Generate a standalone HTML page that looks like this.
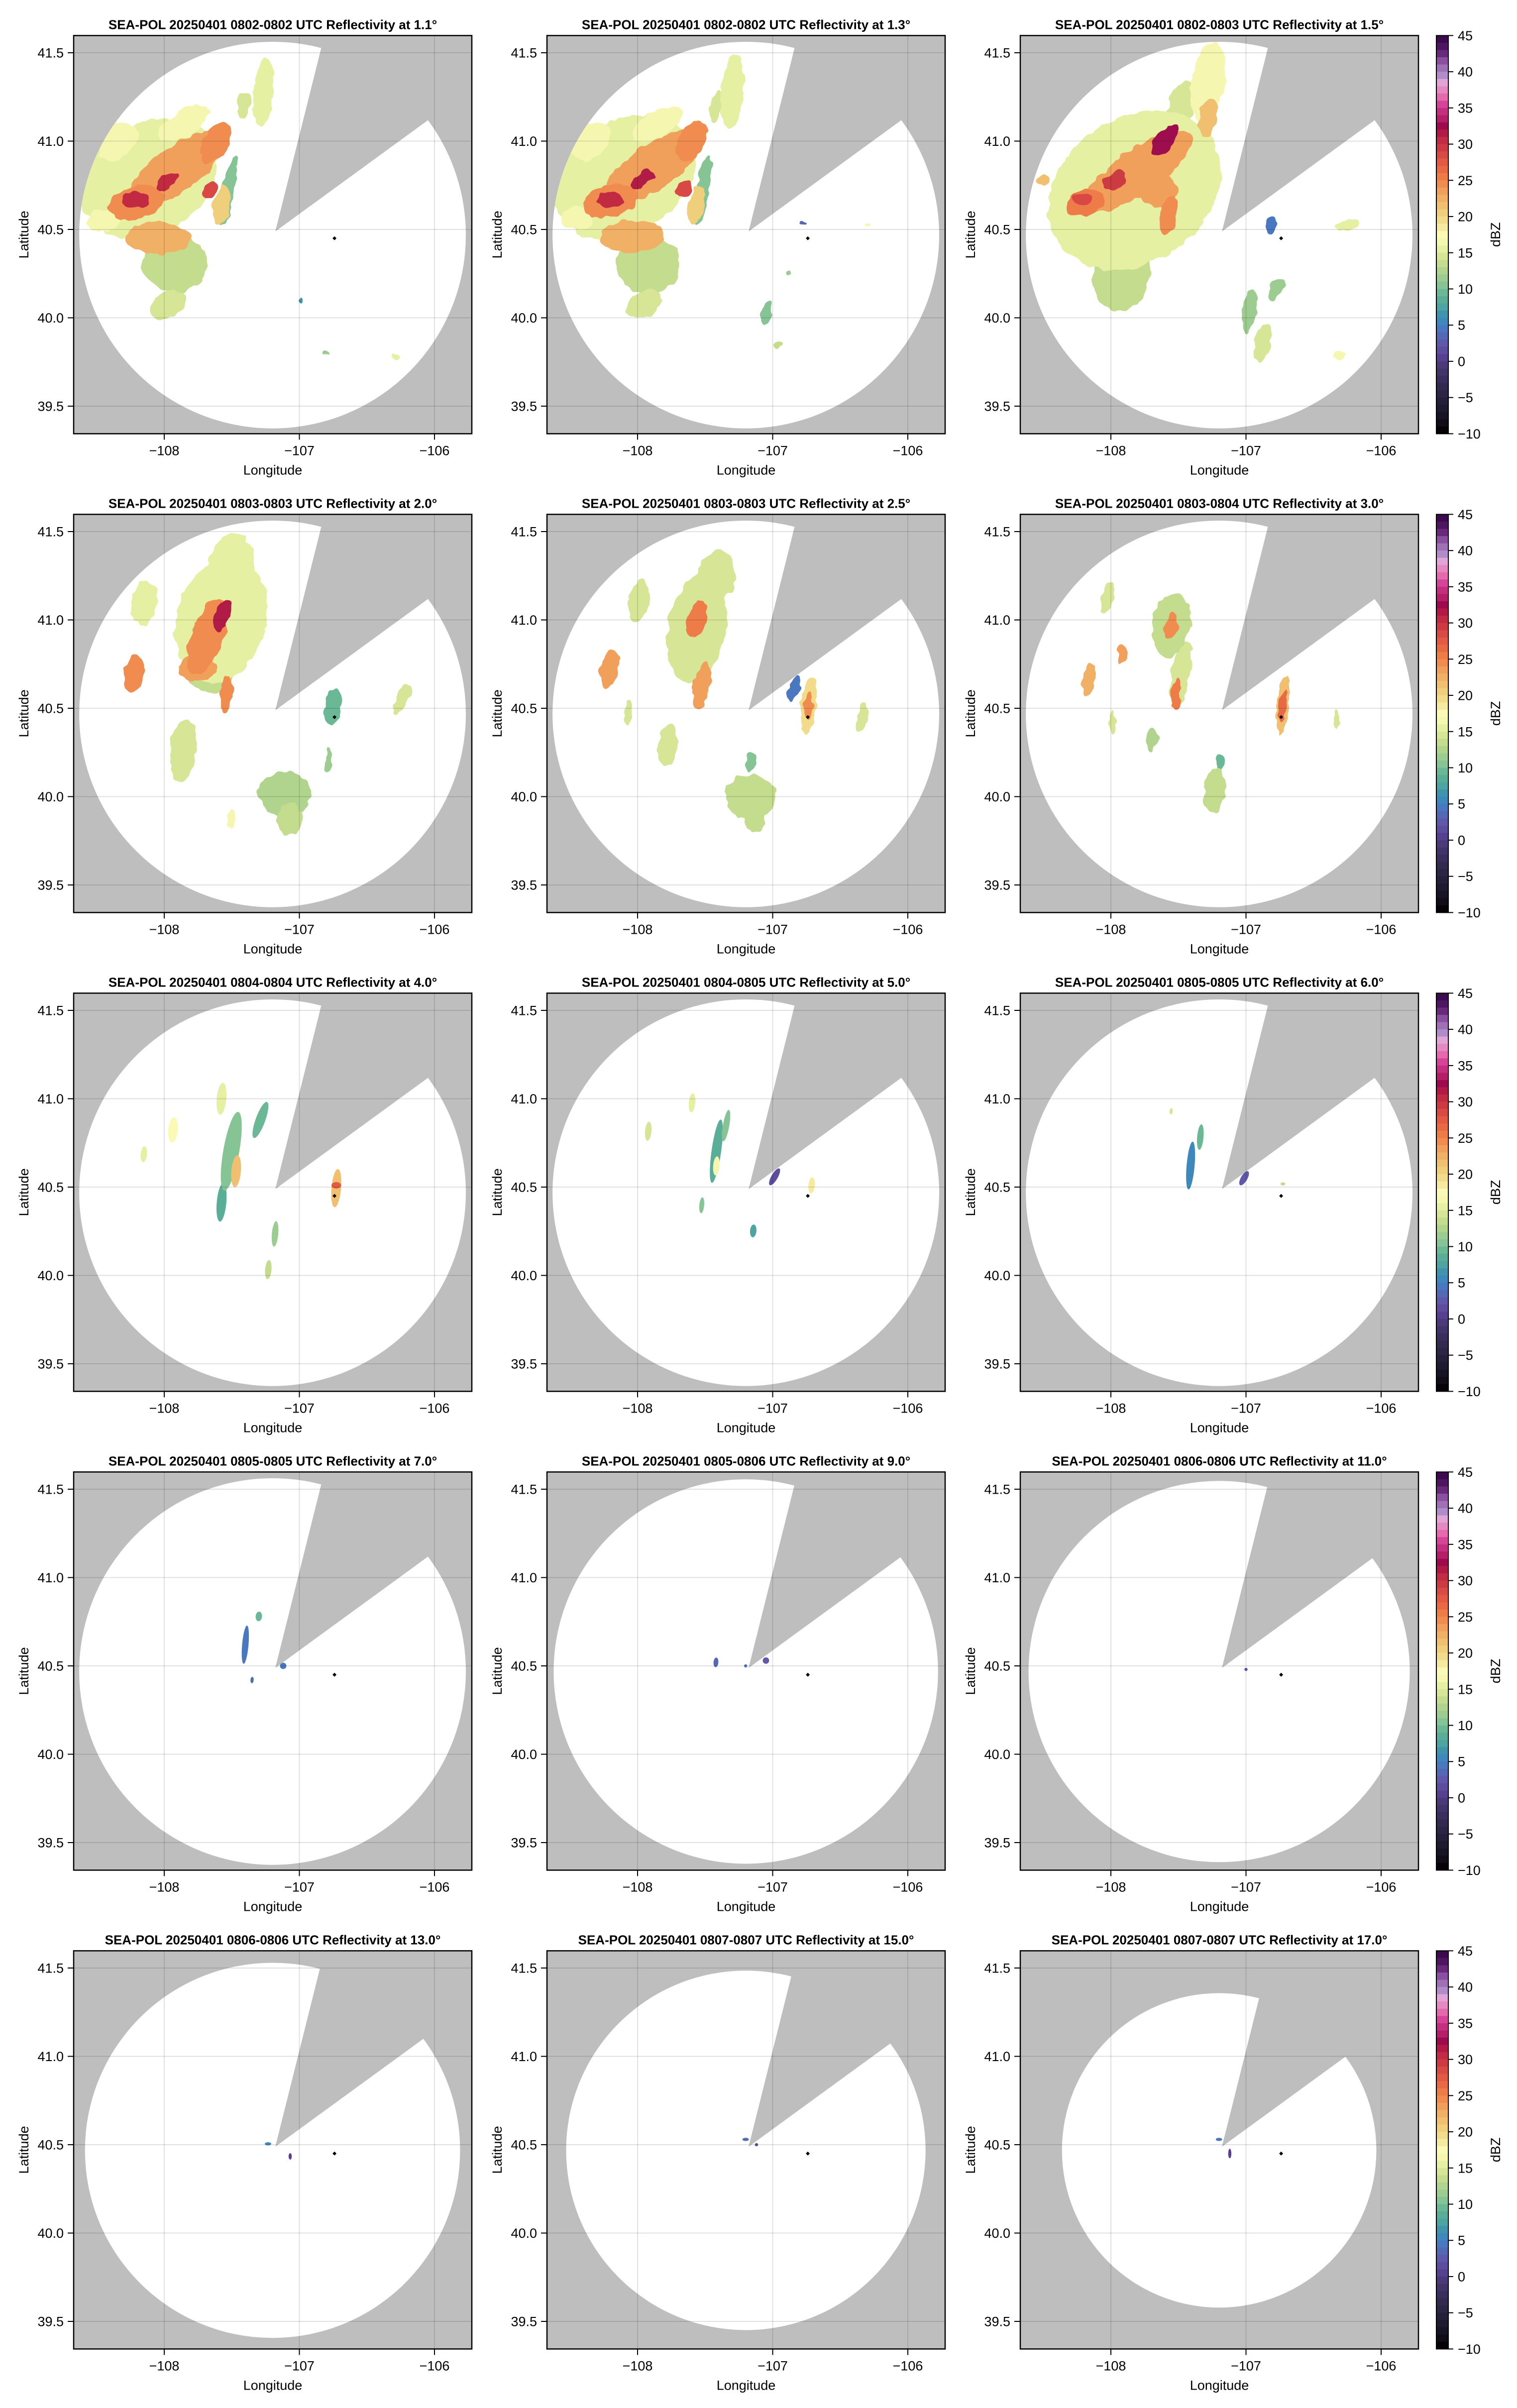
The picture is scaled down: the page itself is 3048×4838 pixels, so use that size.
<!DOCTYPE html>
<html><head><meta charset="utf-8"><title>SEA-POL reflectivity</title>
<style>html,body{margin:0;padding:0;background:#fff}svg{display:block}text{font-family:"Liberation Sans",Arial,sans-serif}</style>
</head><body>
<svg id="fig" width="3048" height="4838" viewBox="0 0 3048 4838" xmlns="http://www.w3.org/2000/svg">
<defs>
<filter id="rag" x="-10%" y="-10%" width="120%" height="120%">
<feTurbulence type="fractalNoise" baseFrequency="0.045" numOctaves="2" seed="4" result="n"/>
<feDisplacementMap in="SourceGraphic" in2="n" scale="16" xChannelSelector="R" yChannelSelector="G"/>
</filter>
</defs>
</svg>
<script>
const panelElev = ["1.1","1.3","1.5","2.0","2.5","3.0","4.0","5.0","6.0","7.0","9.0","11.0","13.0","15.0","17.0"];
const panelTimes = ["0802-0802","0802-0802","0802-0803","0803-0803","0803-0803","0803-0804","0804-0804","0804-0805","0805-0805","0805-0805","0805-0806","0806-0806","0806-0806","0807-0807","0807-0807"];
const panelRangeKm = [121,121,121,121,121,121,121,121,121,121,120.3,119.3,117.4,112.5,98.4];
const lonTicks = [-108,-107,-106];
const latTicks = [41.5,41.0,40.5,40.0,39.5];
const cbTicks = [45,40,35,30,25,20,15,10,5,0,-5,-10];
const radarLon = -107.178, radarLat = 40.49;
const markerLon = -106.74, markerLat = 40.45;
// blobs: [lon, lat, semiMajorKm, semiMinorKm, angleDeg, dBZ]
const panelBlobs = [
[[-108.113,40.793,46,34,30,16],[-107.85,41.1,18,8,30,17],[-107.925,40.308,20,18,0,14],[-107.972,40.075,12,8,30,15],[-107.268,41.277,22,6,85,16],[-107.408,41.206,8,4,80,15],[-107.526,40.721,22,4,80,11],[-108.45,40.55,10,7,0,17],[-108.35,41.0,14,10,40,17],[-107.901,40.846,36,14,35,24],[-108.207,40.649,18,10,15,25],[-108.042,40.452,20,10,0,23],[-107.62,40.99,14,8,60,25],[-107.573,40.64,12,5,80,21],[-108.207,40.667,8,5,0,31],[-107.972,40.775,8,4,35,31],[-107.667,40.721,6,4,45,29],[-106.798,39.796,2,1.5,0,12],[-106.293,39.778,3,1.5,-20,16],[-106.986,40.101,1.6,1,90,7]],
[[-108.1,40.8,48,35,30,16],[-107.85,41.1,18,8,30,17],[-107.92,40.3,20,18,0,14],[-107.95,40.08,12,8,30,15],[-107.3,41.28,24,7,85,16],[-107.42,41.2,10,4,80,15],[-107.52,40.72,22,4,80,11],[-108.45,40.56,10,7,0,17],[-108.35,41.0,14,10,40,17],[-107.89,40.85,36,14,35,24],[-108.2,40.66,18,10,15,25],[-108.04,40.46,20,10,0,23],[-107.6,41.0,14,8,60,25],[-107.57,40.64,12,5,80,21],[-108.2,40.67,8,5,0,31],[-107.96,40.78,8,4,35,32],[-107.66,40.73,6,4,45,29],[-106.77,40.53,2,1,0,4],[-107.05,40.03,8,3,80,11],[-106.88,40.25,2,1,0,12],[-106.95,39.85,3,2,0,14],[-106.28,40.53,2,1,0,17]],
[[-107.823,40.721,58,45,35,16],[-107.281,41.331,26,10,80,17],[-107.478,41.206,16,8,75,15],[-107.921,40.236,22,18,80,14],[-108.044,40.433,14,10,0,16],[-107.577,40.631,20,6,75,9],[-107.798,40.829,40,14,35,24],[-108.192,40.649,12,8,20,26],[-107.65,40.72,12,10,0,24],[-107.577,40.577,12,5,80,25],[-107.281,41.134,12,6,80,22],[-107.601,41.008,12,6,50,33],[-107.97,40.775,8,5,35,30],[-108.217,40.667,6,4,0,29],[-106.813,40.523,6,3,80,5],[-106.777,40.155,8,4,60,12],[-106.973,40.04,14,4,80,12],[-106.875,39.859,12,5,80,15],[-106.247,40.523,7,3,20,16],[-106.309,39.787,4,3,0,17],[-108.5,40.775,4,3,0,22]],
[[-107.576,41.0,40,28,75,16],[-107.504,41.31,20,14,80,16],[-107.683,40.906,25,10,70,25],[-107.576,41.019,10,5,70,32],[-107.755,40.728,12,8,0,24],[-107.54,40.583,12,4,85,25],[-108.223,40.696,12,6,80,25],[-108.151,41.1,14,8,80,16],[-107.863,40.259,20,8,85,15],[-107.108,40.016,16,14,0,13],[-107.072,39.871,10,8,90,14],[-106.748,40.502,12,5,85,10],[-106.784,40.21,8,2,90,12],[-106.245,40.55,10,4,60,15],[-107.504,39.871,6,2,90,17],[-107.65,40.68,14,10,0,14]],
[[-107.561,40.953,35,18,80,15],[-107.417,41.245,16,12,80,15],[-107.561,41.0,12,6,75,26],[-107.525,40.628,15,5,80,24],[-108.209,40.725,12,6,80,24],[-107.993,41.113,14,6,80,15],[-106.734,40.518,18,5,85,20],[-106.734,40.51,8,3,85,25],[-106.842,40.615,8,3,70,5],[-106.338,40.453,10,3,80,15],[-107.165,40.0,16,14,0,14],[-107.129,39.871,8,6,90,14],[-107.165,40.194,6,3,80,11],[-107.777,40.291,14,6,85,15],[-108.065,40.469,8,2,90,15],[-107.6,40.8,14,10,0,12]],
[[-107.554,40.969,20,12,80,14],[-107.554,40.969,8,4,80,25],[-107.482,40.693,20,6,80,15],[-107.518,40.58,10,3,85,26],[-108.165,40.66,10,4,80,23],[-107.914,40.806,6,3,80,24],[-108.022,41.129,10,4,80,15],[-106.727,40.518,18,4,85,22],[-106.727,40.518,10,2.5,85,27],[-106.331,40.437,6,2,90,15],[-107.23,40.032,14,7,85,14],[-107.194,40.194,6,2,90,10],[-107.698,40.324,8,4,80,13],[-107.986,40.421,8,2,90,15]],
[[-107.504,40.703,25,5,80,11],[-107.468,40.59,10,3,85,22],[-107.288,40.88,12,3,70,10],[-107.576,40.413,12,3,85,9],[-107.576,41.0,10,3,85,16],[-107.935,40.823,8,3,85,18],[-108.151,40.686,5,2,85,16],[-106.727,40.494,12,3,85,22],[-106.727,40.51,3,2,0,28],[-107.18,40.235,8,2,85,12],[-107.23,40.033,6,2,85,14]],
[[-107.417,40.703,20,3,82,9],[-107.417,40.62,6,2,85,17],[-107.345,40.848,10,2,80,11],[-107.597,40.977,6,2,85,16],[-107.921,40.816,6,2,85,15],[-106.986,40.558,6,2,60,2],[-106.712,40.51,5,2,85,19],[-107.144,40.252,4,2,85,8],[-107.525,40.397,5,1.5,85,11]],
[[-107.41,40.622,15,2.5,85,6],[-107.338,40.783,8,2,85,10],[-107.014,40.55,5,2,60,3],[-106.727,40.518,1.5,1,0,14],[-107.554,40.929,2,1,85,15]],
[[-107.4,40.62,12,2,85,5],[-107.3,40.78,3,2,85,10],[-107.12,40.5,2,2,0,5],[-107.35,40.42,2,1,85,4]],
[[-107.42,40.52,3,1.5,85,4],[-107.05,40.53,2,2,0,3],[-107.2,40.5,1,1,0,5]],
[[-107.15,40.52,1.5,1.5,0,3],[-107.0,40.48,1,1,0,3]],
[[-107.232,40.505,2,1,0,6],[-107.068,40.434,2,1,90,1]],
[[-107.2,40.53,2,1,0,4],[-107.12,40.5,1,1,0,2]],
[[-107.2,40.53,2,1,0,5],[-107.12,40.45,3,1,90,1]]
];
const cmapColors = ["#3d0a4f","#4e1560","#6a2a7c","#8a4fa0","#a070b4","#b08cc8","#e0a4d6","#e48ac0","#e26aad","#d6449a","#c4307f","#b41f68","#9e0a4e","#b11a46","#c22c42","#cc3a42","#d84a44","#e25a44","#e86a44","#ee7c48","#f08c50","#f0a05a","#f0b066","#f0c070","#efcf7c","#f2dc8c","#f5eaa0","#fbf9b6","#f5f7b0","#e6f0a2","#d6e696","#c4dc8e","#b0d48e","#9ccc90","#86c496","#6ab896","#5aae98","#4ea4a0","#4094ac","#3e88bc","#4a78c0","#5568b4","#6058a8","#5e4c9c","#574090","#4a3a78","#423468","#3a2e5c","#332a50","#2c2544","#25203a","#1e1a30","#181424","#100c18","#050305"];

const NS = "http://www.w3.org/2000/svg";
const svg = document.getElementById("fig");
function mk(tag, attrs, parent){const e=document.createElementNS(NS,tag);for(const k in attrs)e.setAttribute(k,attrs[k]);(parent||svg).appendChild(e);return e;}
function colorFor(v){let i=Math.floor(45-v);if(i<0)i=0;if(i>54)i=54;return cmapColors[i];}
const W=800,H=800,PXKM=3.21;
const colX=[148,1099,2050];
function xs(X0,lon){return X0+182+(lon+108)*271.5;}
function ys(Y0,lat){return Y0+34.6+(41.5-lat)*355;}

for(let p=0;p<15;p++){
  const r=Math.floor(p/3), c=p%3;
  const X0=colX[c], Y0=71.4+962*r;
  const g=mk("g",{});
  
  
  const acp=mk("clipPath",{id:"ax"+p},g);
  mk("rect",{x:X0,y:Y0,width:W,height:H},acp);
  const bg=mk("rect",{x:X0,y:Y0,width:W,height:H,fill:"#bebebe"},g);
  
  
  const cx=xs(X0,radarLon)-5.6, cy=ys(Y0,radarLat)+7.8;
  const rad=panelRangeKm[p]*PXKM;
  const circ=mk("circle",{cx:cx,cy:cy,r:rad,fill:"#fff","clip-path":"url(#ax"+p+")"},g);
  
  
  const cp=mk("clipPath",{id:"cv"+p},g);
  mk("circle",{cx:cx,cy:cy,r:rad},cp);
  const dg=mk("g",{"clip-path":"url(#cv"+p+")"},g);
  const inner=mk("g",p<6?{filter:"url(#rag)"}:{},dg);
  
  
  const bl=panelBlobs[p].slice().sort((a,b)=>a[5]-b[5]);
  for(const b of bl){
    const ex=xs(X0,b[0]), ey=ys(Y0,b[1]);
    const e=mk("ellipse",{cx:ex,cy:ey,rx:b[2]*PXKM,ry:b[3]*PXKM,transform:"rotate("+(-b[4])+" "+ex+" "+ey+")",fill:colorFor(b[5])},inner);
    
    
  }
  const ax=xs(X0,radarLon), ay=ys(Y0,radarLat)+0.5;
  const d1=[0.243,-0.971], d2=[0.808,-0.589], dm=[0.58,-0.84];
  const L=1500;
  const wp=[[ax,ay],[ax+d1[0]*L,ay+d1[1]*L],[ax+dm[0]*L*1.5,ay+dm[1]*L*1.5],[ax+d2[0]*L,ay+d2[1]*L]].map(q=>q.join(",")).join(" ");
  const wedge=mk("polygon",{points:wp,fill:"#bebebe","clip-path":"url(#ax"+p+")"},g);
  
  
  const mx=xs(X0,markerLon), my=ys(Y0,markerLat);
  const mkr=mk("polygon",{points:[mx,my-4,mx+4,my,mx,my+4,mx-4,my].join(" "),fill:"#000"},g);
  
  
  for(const lo of lonTicks){const x=xs(X0,lo);const gl=mk("line",{x1:x,x2:x,y1:Y0,y2:Y0+H,stroke:"rgba(0,0,0,0.12)","stroke-width":2},g);
    
    }
  for(const la of latTicks){const y=ys(Y0,la);const gl=mk("line",{x1:X0,x2:X0+W,y1:y,y2:y,stroke:"rgba(0,0,0,0.12)","stroke-width":2},g);
    
    }
  const fr=mk("rect",{x:X0,y:Y0,width:W,height:H,fill:"none",stroke:"#000","stroke-width":2.5},g);
  
  
  for(const lo of lonTicks){const x=xs(X0,lo);
    mk("line",{x1:x,x2:x,y1:Y0+H,y2:Y0+H+12,stroke:"#000","stroke-width":2},g);
    const t=mk("text",{x:x,y:Y0+H+43,"font-size":27,"text-anchor":"middle"},g);t.textContent="\u2212"+Math.abs(lo);
    
    }
  for(const la of latTicks){const y=ys(Y0,la);
    mk("line",{x1:X0-12,x2:X0,y1:y,y2:y,stroke:"#000","stroke-width":2},g);
    const t=mk("text",{x:X0-20,y:y+9.5,"font-size":27,"text-anchor":"end"},g);t.textContent=la.toFixed(1);
    
    }
  const xl=mk("text",{x:X0+W/2,y:Y0+H+82,"font-size":27,"text-anchor":"middle"},g);xl.textContent="Longitude";
  
  
  const yl=mk("text",{x:0,y:0,"font-size":27,"text-anchor":"middle",transform:"translate("+(X0-91)+","+(Y0+H/2)+") rotate(-90)"},g);yl.textContent="Latitude";
  
  
  const tt=mk("text",{x:X0+W/2,y:Y0-13,"font-size":26,"font-weight":"bold","text-anchor":"middle"},g);
  tt.textContent="SEA-POL 20250401 "+panelTimes[p]+" UTC Reflectivity at "+panelElev[p]+"\u00b0";
  
  
  if(c===2){
    const cg=mk("g",{},g);
    
    
    const bx=X0+836, bw=24, n=cmapColors.length, sh=H/n;
    for(let i=0;i<n;i++){const s=mk("rect",{x:bx,y:Y0+i*sh,width:bw,height:sh+0.6,fill:cmapColors[i]},cg);
      
      }
    mk("rect",{x:bx,y:Y0,width:bw,height:H,fill:"none",stroke:"#000","stroke-width":2},cg);
    for(const v of cbTicks){const y=Y0+(45-v)/55*H;
      mk("line",{x1:bx+bw,x2:bx+bw+10,y1:y,y2:y,stroke:"#000","stroke-width":2},cg);
      const t=mk("text",{x:bx+bw+19,y:y+9.5,"font-size":27},cg);t.textContent=(v<0?"\u2212"+Math.abs(v):String(v));
      
      }
    const cl=mk("text",{x:0,y:0,"font-size":27,"text-anchor":"middle",transform:"translate("+(X0+964)+","+(Y0+H/2)+") rotate(-90)"},cg);cl.textContent="dBZ";
    
    
  }
}
</script>
</body></html>
